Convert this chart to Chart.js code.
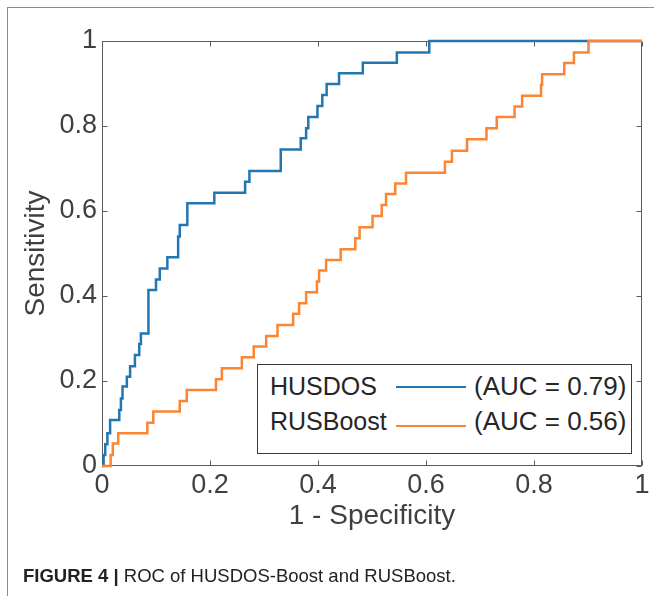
<!DOCTYPE html>
<html>
<head>
<meta charset="utf-8">
<script src="https://cdn.jsdelivr.net/npm/chart.js@4.4.1/dist/chart.umd.min.js"></script>
<style>
  body { margin: 0; background: #fff; }
  #wrap { position: relative; width: 654px; height: 596px; overflow: hidden; font-family: 'Liberation Sans', Arial, Helvetica, sans-serif; }
  #frame { position: absolute; left: 7px; top: 7px; right: 0; bottom: 0; border-left: 1px solid #8c8c8c; border-top: 1px solid #8c8c8c; }
  #rocChart { position: absolute; left: 0; top: 0; }
  #legend { position: absolute; left: 257px; top: 364px; width: 373px; height: 88px; border: 1px solid #3a3a3a; background: #fff; color: #262626; font-size: 25px; }
  #legend .name { position: absolute; left: 12px; }
  #legend .swatch { position: absolute; left: 138px; width: 70px; height: 0; border-top: 2.5px solid; }
  #legend .auc { position: absolute; left: 216px; font-size: 26px; }
  #caption { position: absolute; left: 23px; top: 565px; font-size: 18.5px; line-height: 22px; color: #222; }
  #caption b { font-weight: bold; }
</style>
</head>
<body>
<div id="wrap">
  <div id="frame"></div>
  <canvas id="rocChart" width="654" height="596"></canvas>
  <div id="legend"></div>
  <div id="caption"><b>FIGURE 4 |</b> ROC of HUSDOS-Boost and RUSBoost.</div>
</div>
<script>
// ROC corner points: go across to fpr, then up to tpr
const fprHUSDOS = [0, 0.003, 0.006, 0.010, 0.015, 0.032, 0.035, 0.038, 0.046, 0.052, 0.061, 0.069, 0.072, 0.086, 0.100, 0.107, 0.121, 0.141, 0.144, 0.158, 0.208, 0.265, 0.273, 0.331, 0.368, 0.378, 0.382, 0.399, 0.408, 0.416, 0.439, 0.483, 0.546, 0.606, 1];
const tprHUSDOS = [0, 0.026, 0.051, 0.077, 0.108, 0.132, 0.159, 0.187, 0.210, 0.235, 0.261, 0.287, 0.312, 0.414, 0.439, 0.465, 0.491, 0.540, 0.567, 0.618, 0.643, 0.669, 0.694, 0.745, 0.771, 0.795, 0.821, 0.847, 0.873, 0.899, 0.924, 0.949, 0.973, 1, 1];

const fprRUSBoost = [0, 0.016, 0.020, 0.030, 0.084, 0.095, 0.144, 0.157, 0.211, 0.222, 0.259, 0.281, 0.304, 0.325, 0.354, 0.365, 0.378, 0.398, 0.402, 0.415, 0.442, 0.469, 0.477, 0.501, 0.518, 0.526, 0.543, 0.563, 0.635, 0.648, 0.676, 0.712, 0.731, 0.764, 0.778, 0.813, 0.815, 0.856, 0.874, 0.901, 1];
const tprRUSBoost = [0, 0.026, 0.053, 0.077, 0.102, 0.128, 0.153, 0.179, 0.204, 0.230, 0.256, 0.281, 0.306, 0.332, 0.358, 0.383, 0.409, 0.434, 0.460, 0.485, 0.510, 0.536, 0.562, 0.588, 0.614, 0.640, 0.665, 0.690, 0.716, 0.742, 0.769, 0.795, 0.821, 0.846, 0.871, 0.897, 0.922, 0.948, 0.973, 1, 1];

const seriesNames = ['HUSDOS', 'RUSBoost'];
const aucLabels = ['(AUC = 0.79)', '(AUC = 0.56)'];
const seriesColors = ['#2277b3', '#fb8532'];

const tickValues = [0, 0.2, 0.4, 0.6, 0.8, 1];
const tickLabels = ['0', '0.2', '0.4', '0.6', '0.8', '1'];

const fontFamily = "'Liberation Sans', Arial, Helvetica, sans-serif";
const textColor = '#404040';

function toPoints(xs, ys) {
    return xs.map((x, i) => ({ x: x, y: ys[i] }));
}

// box around the plot with small inward ticks (MATLAB style)
const framePlugin = {
    id: 'frame',
    beforeDatasetsDraw(chart) {
        const { ctx, chartArea: a, scales } = chart;
        const L = Math.round(a.left) + 0.5, R = Math.round(a.right) - 0.5;
        const T = Math.round(a.top) + 0.5, B = Math.round(a.bottom) - 0.5;
        ctx.save();
        ctx.strokeStyle = '#5c5c5c';
        ctx.lineWidth = 1;
        ctx.strokeRect(L, T, R - L, B - T);
        ctx.beginPath();
        tickValues.forEach(v => {
            const px = Math.round(scales.x.getPixelForValue(v)) + 0.5;
            ctx.moveTo(px, B); ctx.lineTo(px, B - 5);
            ctx.moveTo(px, T); ctx.lineTo(px, T + 5);
            const py = Math.round(scales.y.getPixelForValue(v)) + 0.5;
            ctx.moveTo(L, py); ctx.lineTo(L + 5, py);
            ctx.moveTo(R, py); ctx.lineTo(R - 5, py);
        });
        ctx.stroke();
        ctx.restore();
    }
};

const ctx = document.getElementById('rocChart').getContext('2d');

new Chart(ctx, {
    type: 'scatter',
    data: {
        datasets: [{
            label: seriesNames[0],
            data: toPoints(fprHUSDOS, tprHUSDOS),
            borderColor: seriesColors[0],
            borderWidth: 2.5,
            showLine: true,
            stepped: 'before',
            pointRadius: 0,
            clip: false,
            order: 1
        }, {
            label: seriesNames[1],
            data: toPoints(fprRUSBoost, tprRUSBoost),
            borderColor: seriesColors[1],
            borderWidth: 2.5,
            showLine: true,
            stepped: 'before',
            pointRadius: 0,
            clip: false,
            order: 0
        }]
    },
    options: {
        responsive: false,
        animation: false,
        layout: {
            padding: { top: 41, right: 12, bottom: 60, left: 0 }
        },
        plugins: {
            legend: { display: false },
            tooltip: { enabled: false }
        },
        scales: {
            x: {
                type: 'linear',
                min: 0,
                max: 1,
                afterBuildTicks: (scale) => { scale.ticks = tickValues.map(v => ({ value: v })); },
                afterFit: (scale) => { scale.height = 70; },
                ticks: {
                    callback: (v) => tickLabels[tickValues.indexOf(v)],
                    autoSkip: false,
                    maxRotation: 0,
                    padding: 3,
                    color: textColor,
                    font: { family: fontFamily, size: 27 }
                },
                grid: { display: false, drawTicks: false },
                border: { display: false },
                title: {
                    display: true,
                    text: '1 - Specificity',
                    color: textColor,
                    font: { family: fontFamily, size: 28 },
                    padding: { top: 0, bottom: 3 }
                }
            },
            y: {
                type: 'linear',
                min: 0,
                max: 1,
                afterBuildTicks: (scale) => { scale.ticks = tickValues.map(v => ({ value: v })); },
                afterFit: (scale) => { scale.width = 102; },
                ticks: {
                    callback: (v) => tickLabels[tickValues.indexOf(v)],
                    autoSkip: false,
                    padding: 5,
                    color: textColor,
                    font: { family: fontFamily, size: 27 }
                },
                grid: { display: false, drawTicks: false },
                border: { display: false },
                title: {
                    display: true,
                    text: 'Sensitivity',
                    color: textColor,
                    font: { family: fontFamily, size: 28 },
                    padding: { top: 19, bottom: 0 }
                }
            }
        }
    },
    plugins: [framePlugin]
});

// legend box inside the axes, built from the series arrays
const legend = document.getElementById('legend');
const rowTops = [7, 42];
seriesNames.forEach((name, i) => {
    const top = rowTops[i];
    legend.insertAdjacentHTML('beforeend',
        '<span class="name" style="top:' + top + 'px">' + name + '</span>' +
        '<span class="swatch" style="top:' + (top + 14 + i * 4) + 'px;border-color:' + seriesColors[i] + '"></span>' +
        '<span class="auc" style="top:' + (top - 1) + 'px">' + aucLabels[i] + '</span>');
});
</script>
</body>
</html>
